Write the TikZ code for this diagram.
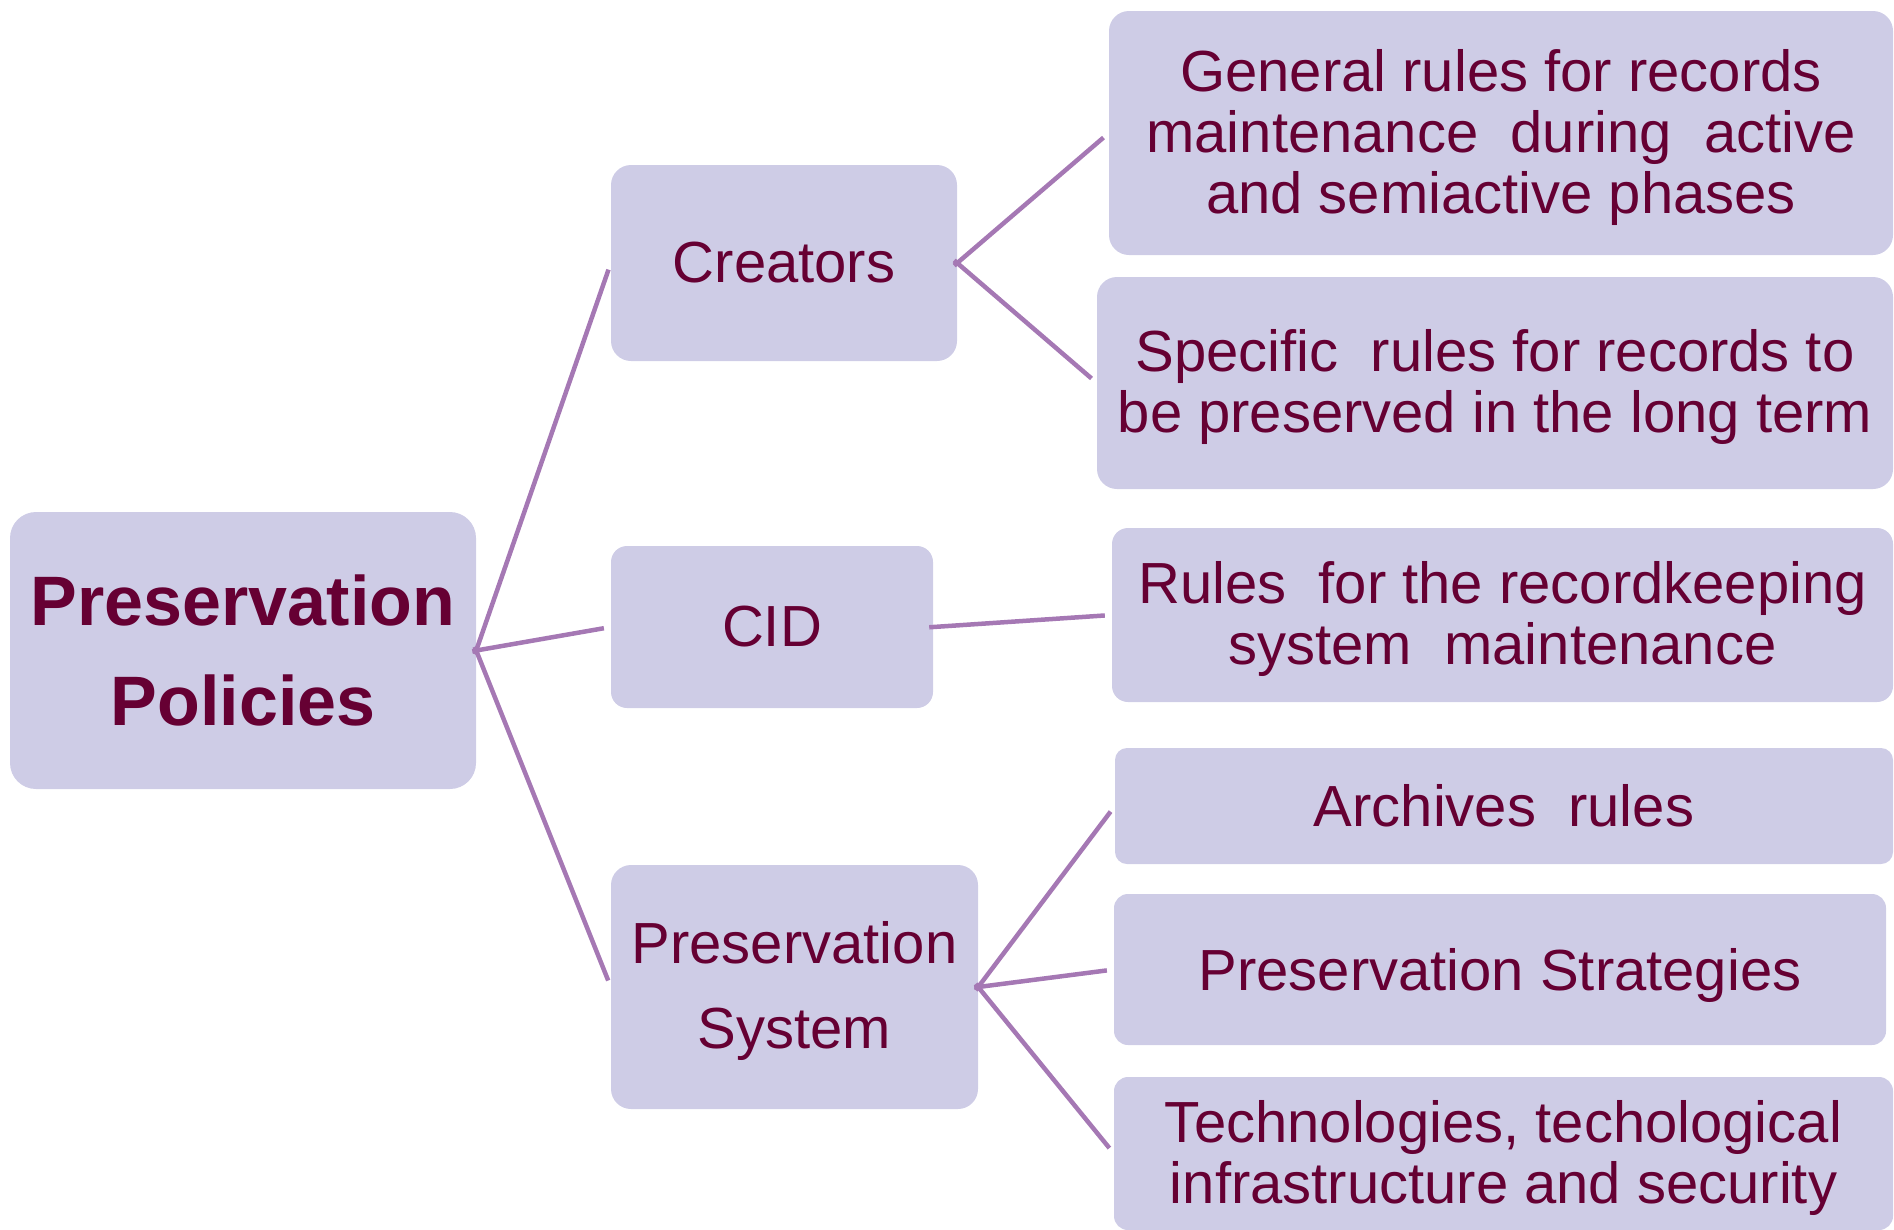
\documentclass[tikz,border=0pt]{standalone}
\usepackage{fontspec}
\setmainfont{Liberation Sans}
\usetikzlibrary{calc}
\definecolor{boxfill}{RGB}{206,204,230}
\definecolor{ink}{RGB}{102,0,51}
\definecolor{wire}{RGB}{165,120,180}
% taller first line so stacked text sits a little lower in its box
\newcommand{\firstline}{\rule{0pt}{51pt}}
\begin{document}
\begin{tikzpicture}[x=1pt,y=-1pt,
  box/.style={fill=boxfill,draw=none,rounded corners=20pt,inner sep=0pt,
    align=center,text=ink,font=\fontsize{58}{61}\selectfont},
  link/.style={draw=wire,line width=4.5pt,shorten <=-4pt,shorten >=7pt}]
\useasboundingbox (0,0) rectangle (1894,1229);

% root of the tree
\node[box,rounded corners=26pt,minimum width=466pt,minimum height=277pt,
  font=\fontsize{70}{100}\selectfont\bfseries] (root) at (243,650.5)
  {Preservation\\Policies};

% second level
\node[box,minimum width=346pt,minimum height=196pt] (creators) at (784,263) {Creators};
\node[box,rounded corners=16pt,minimum width=322pt,minimum height=162pt] (cid) at (772,627) {CID};
\node[box,minimum width=367pt,minimum height=244pt,
  font=\fontsize{58}{85}\selectfont] (pres) at (794.5,987) {\firstline Preservation\\System};

% leaves
\node[box,minimum width=784pt,minimum height=244pt] (general) at (1501,133)
  {\firstline General rules for records\\maintenance\ \ during\ \ active\\and semiactive phases};
\node[box,minimum width=796pt,minimum height=212pt] (specific) at (1495,383)
  {\firstline Specific\ \ rules for records to\\be preserved in the long term};
\node[box,rounded corners=16pt,minimum width=781pt,minimum height=174pt] (rules) at (1502.5,615)
  {\firstline Rules\ \ for the recordkeeping\\system\ \ maintenance};
\node[box,rounded corners=12pt,minimum width=778pt,minimum height=116pt] (archives) at (1504,806)
  {Archives\ \ rules};
\node[box,rounded corners=14pt,minimum width=772pt,minimum height=151pt,text depth=0pt] (strategies) at (1500,969.5)
  {Preservation Strategies};
\node[box,rounded corners=14pt,minimum width=779pt,minimum height=153pt] (tech) at (1503.5,1153.5)
  {\firstline Technologies, techological\\infrastructure and security};

% connectors
\draw[link] (root.east) -- (creators.west);
\draw[link] (root.east) -- (cid.west);
\draw[link] (root.east) -- (pres.west);
\draw[link] (creators.east) -- (general.west);
\draw[link] (creators.east) -- (specific.west);
\draw[link] (cid.east) -- (rules.west);
\draw[link] (pres.east) -- (archives.west);
\draw[link] (pres.east) -- (strategies.west);
\draw[link] (pres.east) -- (tech.west);
\end{tikzpicture}
\end{document}
